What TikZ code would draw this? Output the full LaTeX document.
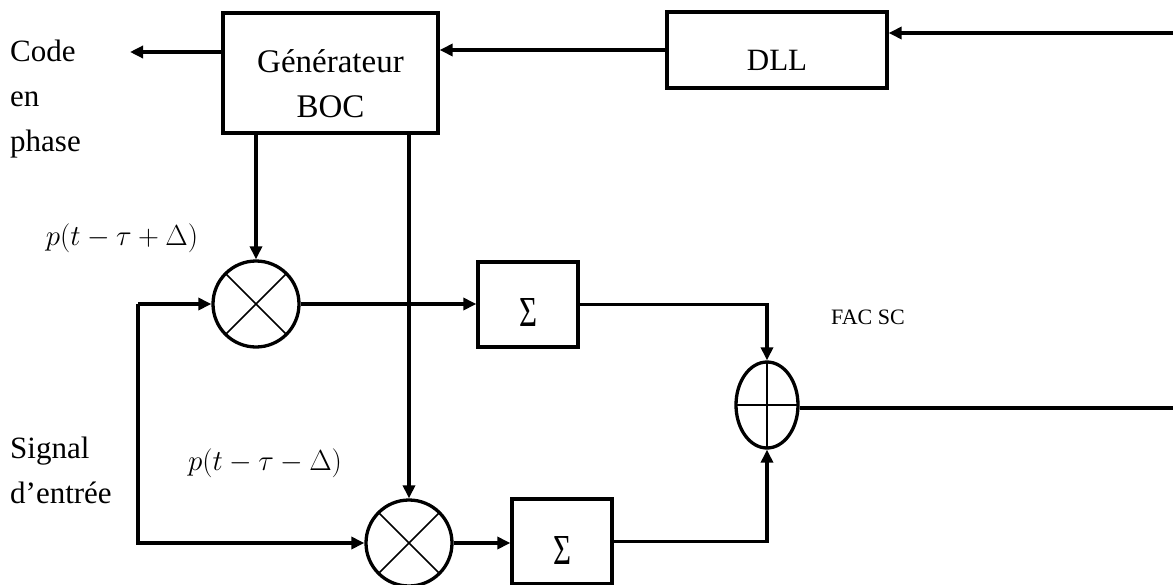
\documentclass[tikz,border=0pt]{standalone}
\usepackage{fix-cm}
\usepackage{fontspec}
\setmainfont{Liberation Serif}
\usetikzlibrary{arrows.meta,shapes.geometric,calc}
\begin{document}
\begin{tikzpicture}[x=1pt,y=-1pt,
  ln/.style={line width=3.3pt, line join=miter},
  arr/.style={ln, -{Triangle[length=13pt,width=12pt]}},
  blk/.style={draw, line width=3.3pt, inner sep=0pt},
  big/.style={font=\fontsize{31}{45}\selectfont},
  mathlbl/.style={font=\fontsize{29}{34}\selectfont, inner sep=0pt},
  sig/.style={inner sep=0pt, font=\fontsize{30}{34}\selectfont},
  mult/.style={circle, draw, line width=3.3pt, minimum size=86pt, inner sep=0pt,
    path picture={\draw[line width=1.7pt]
      (path picture bounding box.south west) -- (path picture bounding box.north east)
      (path picture bounding box.north west) -- (path picture bounding box.south east);}},
  adder/.style={ellipse, draw, line width=3.3pt, minimum width=62pt, minimum height=86pt, inner sep=0pt,
    path picture={\draw[line width=1.7pt]
      (path picture bounding box.north) -- (path picture bounding box.south)
      (path picture bounding box.west) -- (path picture bounding box.east);}}
]
\useasboundingbox (0,0) rectangle (1173,584);

% blocks
\node[blk, minimum width=215pt, minimum height=120pt,
  label={[font=\fontsize{33}{45}\selectfont, align=center, yshift=-11pt]center:Générateur\\BOC}] (gen) at (330.5,73) {};
\node[blk, minimum width=220pt, minimum height=76pt,
  label={[big, yshift=-10pt]center:DLL}] (dll) at (777,50) {};
\node[blk, minimum width=100pt, minimum height=85pt,
  label={[sig, yshift=-8pt]center:\resizebox{18pt}{28pt}{Σ}}] (s1) at (528,304.5) {};
\node[blk, minimum width=100pt, minimum height=85pt,
  label={[sig, yshift=-9pt]center:\resizebox{18pt}{28pt}{Σ}}] (s2) at (562,541.5) {};
\node[mult] (m1) at (256,304) {};
\node[mult] (m2) at (409,543) {};
\node[adder] (add) at (767,405) {};

% texts
\node[big, align=left, anchor=west, inner sep=0pt] (codelbl) at (10,99) {Code\\en\\phase};
\node[big, align=left, anchor=west, inner sep=0pt] (siglbl) at (10,470) {Signal\\d’entrée};
\node[mathlbl] (pplus) at (122,238) {$p(t-\tau+\Delta)$};
\node[mathlbl] (pminus) at (265,463) {$p(t-\tau-\Delta)$};
\node[font=\fontsize{22}{26}\selectfont, inner sep=0pt] (fac) at (868,317) {FAC SC};

% free ends
\coordinate (codeend) at (130,52);
\coordinate (dllin) at (1173,33);
\coordinate (addout) at (1173,408);
\coordinate (inp1) at (138,304);
\coordinate (inp2) at (138,543);

% connectors
\draw[arr] (gen.west |- codeend) -- (codeend);
\draw[arr] (dll.west) -- (dll.west -| gen.east);
\draw[arr] (dllin) -- (dllin -| dll.east);
\draw[arr] (gen.south -| m1.north) -- (m1.north);
\draw[arr] (gen.south -| m2.north) -- (m2.north);
\draw[arr] (inp1) -- (m1.west);
\draw[arr] (inp1) -- (inp2) -- (m2.west);
\draw[arr] (m1.east) -- (m1.east -| s1.west);
\draw[arr] (m2.east) -- (m2.east -| s2.west);
\draw[arr] (s1.east) -| (add.north);
\draw[arr] (s2.east) -| (add.south);
\draw[ln] (add.east |- addout) -- (addout);
\end{tikzpicture}
\end{document}
